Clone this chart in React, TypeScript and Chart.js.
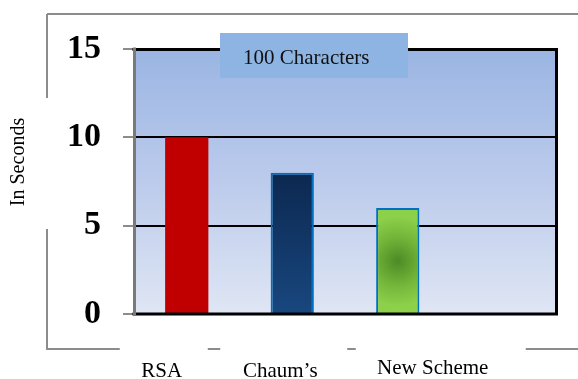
import React, { useEffect, useRef } from 'react';
import { Chart, registerables } from 'chart.js';

Chart.register(...registerables);

const categories = ['RSA', 'Chaum\u2019s', 'New Scheme', ''];
const seconds: (number | null)[] = [10, 8, 6, null];
const yMin = 0;
const yMax = 15;
const yStep = 5;
const chartTitle = '100 Characters';
const yAxisTitle = 'In Seconds';

const SERIF = '"Liberation Serif", "Times New Roman", serif';

// label placement tweaks (relative to bar centre) and frame gaps around labels
const labelDx = [-25, -12, 35];
const labelBaseline = [377, 377, 374];
const labelGap: [number, number][] = [[-42, 46], [-60, 67], [-77, 93]];

function barFill(ctx: any) {
  const chart = ctx.chart;
  const i = ctx.dataIndex;
  const area = chart.chartArea;
  if (!area || !chart.scales.x || !chart.scales.y) return '#c00000';
  const v = seconds[i] ?? 0;
  const x = chart.scales.x.getPixelForValue(i);
  const yTop = chart.scales.y.getPixelForValue(v);
  const yBot = chart.scales.y.getPixelForValue(0);
  const c = chart.ctx as CanvasRenderingContext2D;
  if (i === 0) return '#c00000';
  if (i === 1) {
    const g = c.createLinearGradient(0, yTop, 0, yBot);
    g.addColorStop(0, '#0c2850');
    g.addColorStop(1, '#18477f');
    return g;
  }
  const cy = (yTop + yBot) / 2;
  const g = c.createRadialGradient(x, cy, 0, x, cy, 45);
  g.addColorStop(0, '#4c8a26');
  g.addColorStop(0.55, '#74b63a');
  g.addColorStop(1, '#8dd04a');
  return g;
}

const decorPlugin = {
  id: 'decor',
  beforeDraw(chart: any) {
    const { ctx, chartArea } = chart;
    const { left, top, right, bottom } = chartArea;
    const g = ctx.createLinearGradient(0, top, 0, bottom);
    g.addColorStop(0, '#9ab5e2');
    g.addColorStop(0.5, '#bccbec');
    g.addColorStop(1, '#dfe6f4');
    ctx.save();
    ctx.fillStyle = g;
    ctx.fillRect(left, top, right - left, bottom - top);
    ctx.restore();
  },
  afterDatasetsDraw(chart: any) {
    const { ctx, chartArea } = chart;
    const { left, top, right, bottom } = chartArea;
    ctx.save();
    ctx.lineCap = 'square';
    ctx.strokeStyle = '#000';
    ctx.lineWidth = 3;
    ctx.beginPath();
    ctx.moveTo(left, top + 0.5);
    ctx.lineTo(right + 0.5, top + 0.5);
    ctx.lineTo(right + 0.5, bottom);
    ctx.lineTo(left, bottom);
    ctx.stroke();
    ctx.strokeStyle = '#7a7a7a';
    ctx.beginPath();
    ctx.moveTo(left + 0.5, top);
    ctx.lineTo(left + 0.5, bottom);
    ctx.stroke();
    ctx.restore();
  },
  afterDraw(chart: any) {
    const { ctx, chartArea } = chart;
    const xs = chart.scales.x;
    ctx.save();
    // outer frame
    ctx.strokeStyle = '#8c8c8c';
    ctx.lineWidth = 2;
    const fl = 47, ft = 14, fb = 349, fr = 578;
    ctx.beginPath();
    ctx.moveTo(fl, ft);
    ctx.lineTo(fr, ft);
    ctx.moveTo(fl, ft);
    ctx.lineTo(fl, 98);
    ctx.moveTo(fl, 229);
    ctx.lineTo(fl, fb);
    let cur = fl;
    categories.forEach((c, i) => {
      if (!c) return;
      const cx = xs.getPixelForValue(i) + labelDx[i];
      ctx.lineTo(cx + labelGap[i][0], fb);
      cur = cx + labelGap[i][1];
      ctx.moveTo(cur, fb);
    });
    ctx.lineTo(fr, fb);
    ctx.stroke();

    // x labels
    ctx.fillStyle = '#000';
    ctx.font = `21px ${SERIF}`;
    ctx.textAlign = 'center';
    ctx.textBaseline = 'alphabetic';
    categories.forEach((c, i) => {
      if (!c) return;
      const cx = xs.getPixelForValue(i) + labelDx[i];
      ctx.fillText(c, cx, labelBaseline[i]);
    });

    // y axis title
    ctx.save();
    ctx.translate(24, 162);
    ctx.rotate(-Math.PI / 2);
    ctx.font = `20px ${SERIF}`;
    ctx.textAlign = 'center';
    ctx.fillText(yAxisTitle, 0, 0);
    ctx.restore();

    // title box
    ctx.fillStyle = '#8db4e2';
    ctx.fillRect(220, 33, 188, 45);
    ctx.fillStyle = '#111';
    ctx.font = `21px ${SERIF}`;
    ctx.textAlign = 'left';
    ctx.fillText(chartTitle, 243, 64);
    ctx.restore();
  },
};

export default function App() {
  const ref = useRef<HTMLCanvasElement | null>(null);
  useEffect(() => {
    if (!ref.current) return;
    const chart = new Chart(ref.current, {
      type: 'bar',
      data: {
        labels: categories,
        datasets: [
          {
            data: seconds as any,
            backgroundColor: barFill as any,
            borderColor: ['rgba(0,0,0,0)', '#0070c0', '#0070c0', '#0070c0'],
            borderWidth: [0, 2, 2, 2],
            categoryPercentage: 1,
            barPercentage: 0.41,
          },
        ],
      },
      options: {
        animation: false,
        responsive: false,
        devicePixelRatio: 1,
        layout: { padding: { top: 49, right: 22, bottom: 65, left: 0 } },
        plugins: {
          legend: { display: false },
          title: { display: false },
          tooltip: { enabled: false },
        },
        scales: {
          x: { display: false },
          y: {
            min: yMin,
            max: yMax,
            border: { display: false },
            grid: {
              color: (c: any) =>
                c.tick && c.tick.value !== yMin && c.tick.value !== yMax ? '#000' : 'rgba(0,0,0,0)',
              lineWidth: 2,
              tickColor: '#8c8c8c',
              tickLength: 11,
              tickWidth: 2,
            },
            ticks: {
              stepSize: yStep,
              padding: 22,
              color: '#000',
              font: { family: SERIF, size: 34, weight: 'bold' },
            },
            afterFit: (s: any) => {
              s.width = 134;
            },
          },
        },
      },
      plugins: [decorPlugin],
    });
    return () => chart.destroy();
  }, []);
  return (
    <div style={{ position: 'absolute', left: 0, top: 0, width: 578, height: 379 }}>
      <canvas ref={ref} width={578} height={379} style={{ display: 'block' }} />
    </div>
  );
}
